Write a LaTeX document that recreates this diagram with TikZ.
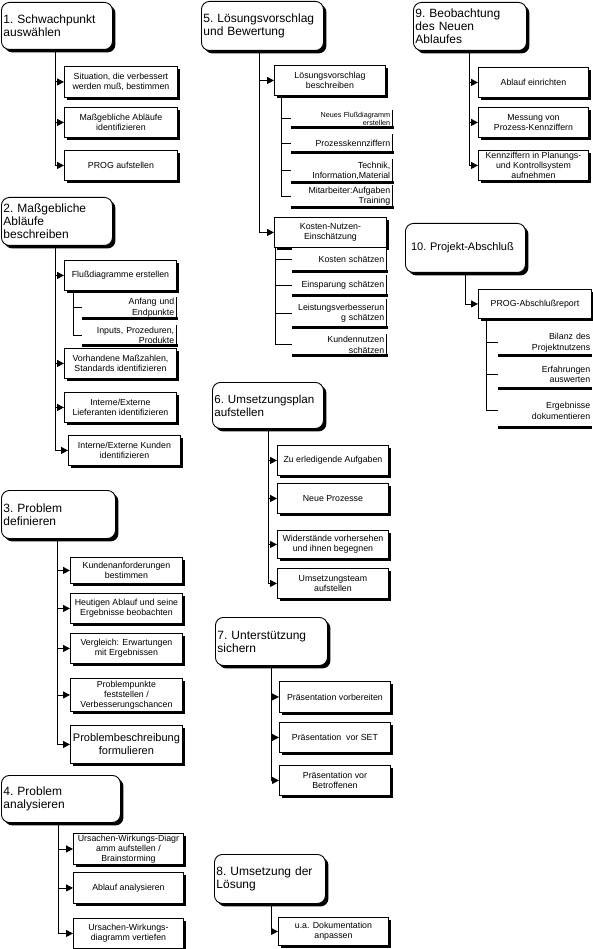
\documentclass[tikz,border=0pt]{standalone}
\usepackage{fontspec}
\setmainfont{Liberation Sans}
\usetikzlibrary{arrows.meta,shadows}
\newcommand\hdrfont{\fontsize{12}{13}\selectfont}
\newcommand\boxfont{\fontsize{8.8}{10.5}\selectfont}
\newcommand\smallboxfont{\fontsize{7.2}{8.3}\selectfont}
\begin{document}
\begin{tikzpicture}[x=1pt,y=-1pt,
  shade/.style={drop shadow={shadow xshift=3pt,shadow yshift=-3pt,fill=black,opacity=1}},
  hdr/.style={draw,fill=white,rounded corners=8pt,line width=0.9pt,inner xsep=2pt,inner ysep=0pt,
    align=left,font=\hdrfont,anchor=north west,shade},
  box/.style={draw,fill=white,line width=0.9pt,inner sep=1pt,align=center,font=\boxfont,
    anchor=north west,shade},
  sub/.style={fill=white,inner xsep=2pt,inner ysep=0pt,align=right,font=\boxfont,anchor=north west},
  conn/.style={line width=0.9pt,-{Triangle[length=7pt,width=7pt]}},
  tickline/.style={line width=0.9pt},
  subedge/.style={line width=0.9pt},
  subbase/.style={line width=2.6pt}]
\useasboundingbox (0,0) rectangle (592,949);
\fill[white] (0,0) rectangle (592,949);

% ---------- Section 1
\node[hdr,minimum width=111,minimum height=47,text width=107pt] (h1) at (1,2) {1.~Schwachpunkt\\auswählen};
\node[box,minimum width=113,minimum height=31] (b11) at (64,66) {Situation, die verbessert\\werden muß, bestimmen};
\node[box,minimum width=113,minimum height=30] (b12) at (64,107) {Maßgebliche Abläufe\\identifizieren};
\node[box,minimum width=113,minimum height=30] (b13) at (64,150) {PROG aufstellen};
\coordinate (t1) at ([xshift=54pt]h1.south west);
\foreach \b in {b11,b12,b13} \draw[conn] (t1) |- (\b.west);

% ---------- Section 2
\node[hdr,minimum width=111,minimum height=48,text width=107pt] (h2) at (1,197) {2.~Maßgebliche\\Abläufe\\beschreiben};
\node[box,minimum width=112,minimum height=30] (b21) at (64,260) {Flußdiagramme erstellen};
\node[sub,minimum width=94,minimum height=21,text width=90pt] (s21) at (82,297) {Anfang~und\\Endpunkte};
\node[sub,minimum width=94,minimum height=20,text width=90pt] (s22) at (82,325) {Inputs,~Prozeduren,\\Produkte};
\node[box,minimum width=112,minimum height=30] (b22) at (64,348) {Vorhandene Maßzahlen,\\Standards identifizieren};
\node[box,minimum width=112,minimum height=30] (b23) at (64,392) {Interne/Externe\\Lieferanten identifizieren};
\node[box,minimum width=112,minimum height=30] (b24) at (68,435) {Interne/Externe Kunden\\identifizieren};
\coordinate (t2) at ([xshift=54pt]h2.south west);
\foreach \b in {b21,b22,b23,b24} \draw[conn] (t2) |- (\b.west);
\coordinate (u21) at ([xshift=9pt]b21.south west);
\foreach \s in {s21,s22} \draw[tickline] (u21) |- (\s.west);

% ---------- Section 3
\node[hdr,minimum width=114,minimum height=48,text width=110pt] (h3) at (1,490) {3.~Problem\\definieren};
\node[box,minimum width=112,minimum height=26] (b31) at (70,557) {Kundenanforderungen\\bestimmen};
\node[box,minimum width=112,minimum height=30] (b32) at (70,593) {Heutigen Ablauf und seine\\Ergebnisse beobachten};
\node[box,minimum width=112,minimum height=30] (b33) at (70,633) {Vergleich: Erwartungen\\mit Ergebnissen};
\node[box,minimum width=112,minimum height=33,font=\fontsize{8.8}{10}\selectfont] (b34) at (70,678) {Problempunkte\\feststellen /\\Verbesserungschancen};
\node[box,minimum width=112,minimum height=38,font=\fontsize{11}{13}\selectfont] (b35) at (70,725) {Problembeschreibung\\formulieren};
\coordinate (t3) at ([xshift=56pt]h3.south west);
\foreach \b in {b31,b32,b33,b34,b35} \draw[conn] (t3) |- (\b.west);

% ---------- Section 4
\node[hdr,minimum width=119,minimum height=47,text width=115pt] (h4) at (1,775) {4.~Problem\\analysieren};
\node[box,minimum width=110,minimum height=31,font=\fontsize{8.8}{9.8}\selectfont] (b41) at (73,833) {Ursachen-Wirkungs-Diagr\\amm aufstellen /\\Brainstorming};
\node[box,minimum width=110,minimum height=31] (b42) at (73,872) {Ablauf analysieren};
\node[box,minimum width=110,minimum height=30] (b43) at (73,918) {Ursachen-Wirkungs-\\diagramm vertiefen};
\coordinate (t4) at ([xshift=57pt]h4.south west);
\foreach \b in {b41,b42,b43} \draw[conn] (t4) |- (\b.west);

% ---------- Section 5
\node[hdr,minimum width=122,minimum height=49,text width=118pt] (h5) at (201,1) {5.~Lösungsvorschlag\\und~Bewertung};
\node[box,minimum width=111,minimum height=30] (b51) at (274,65) {Lösungsvorschlag\\beschreiben};
\node[sub,minimum width=101,minimum height=17,text width=97pt,font=\smallboxfont] (s51) at (291,110) {Neues~Flußdiagramm\\erstellen};
\node[sub,minimum width=101,minimum height=18,text width=97pt] (s52) at (291,134) {Prozesskennziffern};
\node[sub,minimum width=101,minimum height=23,text width=97pt] (s53) at (291,159) {Technik,\\Information,Material};
\node[sub,minimum width=101,minimum height=22,text width=97pt] (s54) at (291,185) {Mitarbeiter:Aufgaben\\Training};
\node[box,minimum width=112,minimum height=30] (b52) at (274,217) {Kosten-Nutzen-\\Einschätzung};
\node[sub,minimum width=94,minimum height=23.5,text width=90pt] (s55) at (292,247.5) {Kosten~schätzen};
\node[sub,minimum width=94,minimum height=20,text width=90pt] (s56) at (292,275) {Einsparung~schätzen};
\node[sub,minimum width=94,minimum height=28,text width=90pt] (s57) at (292,299) {Leistungsverbesserun\\g~schätzen};
\node[sub,minimum width=94,minimum height=21,text width=90pt] (s58) at (292,334) {Kundennutzen\\schätzen};
\coordinate (t5) at ([xshift=58pt]h5.south west);
\foreach \b in {b51,b52} \draw[conn] (t5) |- (\b.west);
\coordinate (u51) at ([xshift=7pt]b51.south west);
\foreach \s in {s51,s52,s53,s54} \draw[tickline] (u51) |- (\s.west);
\coordinate (u52) at ([xshift=1pt]b52.south west);
\foreach \s in {s55,s56,s57,s58} \draw[tickline] (u52) |- (\s.west);

% ---------- Section 6
\node[hdr,minimum width=111,minimum height=46,text width=107pt,font=\fontsize{11.6}{13}\selectfont] (h6) at (212,382) {6.~Umsetzungsplan\\aufstellen};
\node[box,minimum width=111,minimum height=30] (b61) at (277,445) {Zu erledigende Aufgaben};
\node[box,minimum width=111,minimum height=30] (b62) at (277,483) {Neue Prozesse};
\node[box,minimum width=111,minimum height=28] (b63) at (277,530) {Widerstände vorhersehen\\und ihnen begegnen};
\node[box,minimum width=111,minimum height=30] (b64) at (277,568) {Umsetzungsteam\\aufstellen};
\coordinate (t6) at ([xshift=56pt]h6.south west);
\foreach \b in {b61,b62,b63,b64} \draw[conn] (t6) |- (\b.west);

% ---------- Section 7
\node[hdr,minimum width=112,minimum height=48,text width=108pt] (h7) at (215,617) {7.~Unterstützung\\sichern};
\node[box,minimum width=111,minimum height=31] (b71) at (279,681) {Präsentation vorbereiten};
\node[box,minimum width=111,minimum height=30] (b72) at (279,722) {Präsentation\ \ vor SET};
\node[box,minimum width=111,minimum height=30] (b73) at (279,765) {Präsentation vor\\Betroffenen};
\coordinate (t7) at ([xshift=56pt]h7.south west);
\foreach \b in {b71,b72,b73} \draw[conn] (t7) |- (\b.west);

% ---------- Section 8
\node[hdr,minimum width=111,minimum height=49,text width=107pt] (h8) at (214,854) {8.~Umsetzung~der\\Lösung};
\node[box,minimum width=110,minimum height=28] (b81) at (278,917) {u.a. Dokumentation\\anpassen};
\coordinate (t8) at ([xshift=57pt]h8.south west);
\draw[conn] (t8) |- (b81.west);

% ---------- Section 9
\node[hdr,minimum width=113,minimum height=48,text width=109pt] (h9) at (413,2) {9.~Beobachtung\\des~Neuen\\Ablaufes};
\node[box,minimum width=110,minimum height=30] (b91) at (478,67) {Ablauf einrichten};
\node[box,minimum width=110,minimum height=30] (b92) at (478,107) {Messung von\\Prozess-Kennziffern};
\node[box,minimum width=110,minimum height=30,font=\fontsize{8.8}{9.6}\selectfont] (b93) at (478,150) {Kennziffern in Planungs-\\und Kontrollsystem\\aufnehmen};
\coordinate (t9) at ([xshift=56pt]h9.south west);
\foreach \b in {b91,b92,b93} \draw[conn] (t9) |- (\b.west);

% ---------- Section 10
\node[hdr,minimum width=120,minimum height=49,text width=116pt,inner xsep=2pt,font=\fontsize{11}{13}\selectfont] (h10) at (405,223) {\ 10.~Projekt-Abschluß};
\node[box,minimum width=113,minimum height=29] (b101) at (478,289) {PROG-Abschlußreport};
\node[sub,minimum width=94,minimum height=25,text width=90pt] (s101) at (498,330) {Bilanz~des\\Projektnutzens};
\node[sub,minimum width=94,minimum height=28,text width=90pt] (s102) at (498,360) {Erfahrungen\\auswerten};
\node[sub,minimum width=94,minimum height=33,text width=90pt] (s103) at (498,394) {Ergebnisse\\dokumentieren};
\coordinate (t10) at ([xshift=60pt]h10.south west);
\draw[conn] (t10) |- (b101.west);
\coordinate (u101) at ([xshift=8pt]b101.south west);
\foreach \s in {s101,s102,s103} \draw[tickline] (u101) |- (\s.west);

% ---------- sub-box edges (right line + heavy base)
\foreach \s in {s21,s22,s51,s52,s53,s54,s55,s56,s57,s58} {
  \draw[subedge] (\s.north east) -- (\s.south east);
  \draw[subbase] (\s.south west) -- ([xshift=1.5pt]\s.south east);
}
\foreach \s in {s101,s102,s103} \draw[subbase] (\s.south west) -- (\s.south east);
\end{tikzpicture}
\end{document}
